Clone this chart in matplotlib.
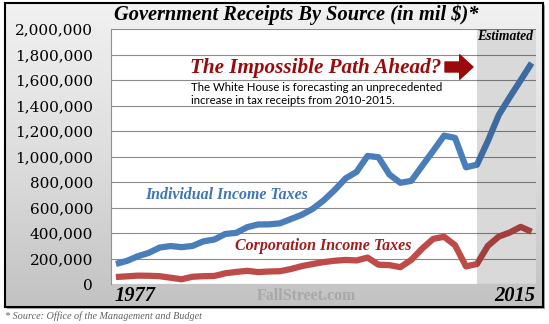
import numpy as np
import matplotlib
matplotlib.use('Agg')
import matplotlib.pyplot as plt
from matplotlib.patches import Rectangle

# data (millions of dollars)
years = list(range(1977, 2016))
individual = [157626, 180988, 217841, 244069, 285917, 297744, 288938, 298415,
              334531, 348959, 392557, 401181, 445690, 466884, 467827, 475964,
              509680, 543055, 590244, 656417, 737466, 828586, 879480, 1004462,
              994339, 858345, 793699, 808959, 927222, 1043908, 1163472, 1145747,
              915308, 935771, 1121000, 1326000, 1465000, 1598000, 1733000]
corporate = [54892, 59952, 65677, 64600, 61137, 49207, 37022, 56893,
             61331, 63143, 83926, 94508, 103291, 93507, 98086, 100270,
             117520, 140385, 157004, 171824, 182293, 188677, 184680, 207289,
             151075, 148044, 131778, 189371, 278282, 353915, 370243, 304346,
             138229, 156741, 299000, 372000, 404000, 448000, 410000]
yticks = list(range(0, 2000001, 200000))
est_start = 2010

W, H = 549, 324
SERIF = 'DejaVu Serif'
HEAD = 'Liberation Serif'


def fx(x):
    return x / W


def fy(y):
    return 1 - y / H


fig = plt.figure(figsize=(W / 100, H / 100), dpi=100)
fig.patch.set_facecolor('white')

# shadow + gradient panel
fig.patches.append(Rectangle((fx(7), fy(309)), 538 / W, 304 / H, transform=fig.transFigure,
                             facecolor='#a8a8a8', edgecolor='none', zorder=0))
bg = fig.add_axes([fx(5), fy(307), 538 / W, 304 / H], zorder=1)
grad = np.linspace(0, 1, 256).reshape(-1, 1)
bg.imshow(grad, aspect='auto', cmap=matplotlib.colors.LinearSegmentedColormap.from_list(
    'g', ['#f1f1f1', '#dedede', '#c2c2c2']), extent=[0, 1, 0, 1], origin='upper')
bg.set_xticks([])
bg.set_yticks([])
for s in bg.spines.values():
    s.set_color('black')
    s.set_linewidth(1.5)

ax = fig.add_axes([fx(111), fy(284), (536 - 111) / W, (284 - 29) / H], zorder=2)
ax.set_facecolor('white')
ax.set_xlim(1976.55, 2015.4)
ax.set_ylim(0, 2000000)
ax.set_yticks(yticks)
ax.set_yticklabels([f'{v:,}' for v in yticks], family=SERIF, fontsize=11)
ax.tick_params(axis='y', length=0, pad=13)
ax.set_xticks([])
for side in ['top', 'right', 'bottom']:
    ax.spines[side].set_visible(False)
ax.spines['left'].set_color('#909090')
ax.yaxis.grid(True, color='#8a8a8a', linewidth=0.8)
ax.set_axisbelow(True)

ax.plot(years, individual, color='#4a7ebb', linewidth=4.5, solid_capstyle='butt',
        solid_joinstyle='round', zorder=3)
ax.plot(years, corporate, color='#be4b48', linewidth=4.5, solid_capstyle='butt',
        solid_joinstyle='round', zorder=3)
ax.axvspan(est_start, 2015.4, color='black', alpha=0.15, linewidth=0, zorder=4)

# titles and labels
fig.text(fx(296), fy(15), 'Government Receipts By Source (in mil $)*', family=HEAD,
         weight='bold', style='italic', fontsize=14.7, ha='center', va='center', zorder=5)
fig.text(fx(533), fy(37), 'Estimated', family=HEAD, weight='bold', style='italic',
         fontsize=9.8, ha='right', va='center', zorder=5)
fig.text(fx(190), fy(68), 'The Impossible Path Ahead?', family=HEAD, weight='bold',
         style='italic', fontsize=15.2, color='#9b0a0a', ha='left', va='center', zorder=5)
ax.annotate('', xy=(473, H - 67), xytext=(445, H - 67), xycoords='figure pixels',
            textcoords='figure pixels',
            arrowprops=dict(arrowstyle='simple,head_width=1.1,head_length=0.6,tail_width=0.45',
                            color='#9b0a0a', mutation_scale=16, shrinkA=0, shrinkB=0))
fig.text(fx(191), fy(94), 'The White House is forecasting an unprecedented\n'
         'increase in tax receipts from 2010-2015.', family='Lato', fontsize=8.2,
         linespacing=1.2, ha='left', va='center', zorder=5)
fig.text(fx(145), fy(195), 'Individual Income Taxes', family=HEAD, weight='bold',
         style='italic', fontsize=11.4, color='#3f74b5', ha='left', va='center', zorder=5)
fig.text(fx(235), fy(246), 'Corporation Income Taxes', family=HEAD, weight='bold',
         style='italic', fontsize=11.5, color='#a31c1c', ha='left', va='center', zorder=5)

fig.text(fx(115), fy(296), str(years[0]), family=HEAD, weight='bold', style='italic',
         fontsize=14.8, ha='left', va='center', zorder=5)
fig.text(fx(535), fy(296), str(years[-1]), family=HEAD, weight='bold', style='italic',
         fontsize=14.8, ha='right', va='center', zorder=5)
fig.text(fx(306), fy(296), 'FallStreet.com', family=HEAD, weight='bold',
         fontsize=11.4, color='#a8a8a8', ha='center', va='center', zorder=5)
fig.text(fx(5), fy(316), '* Source: Office of the Management and Budget', family=HEAD,
         style='italic', fontsize=7.3, color='#606060', ha='left', va='center', zorder=5)

fig.savefig('out.png', dpi=100)
